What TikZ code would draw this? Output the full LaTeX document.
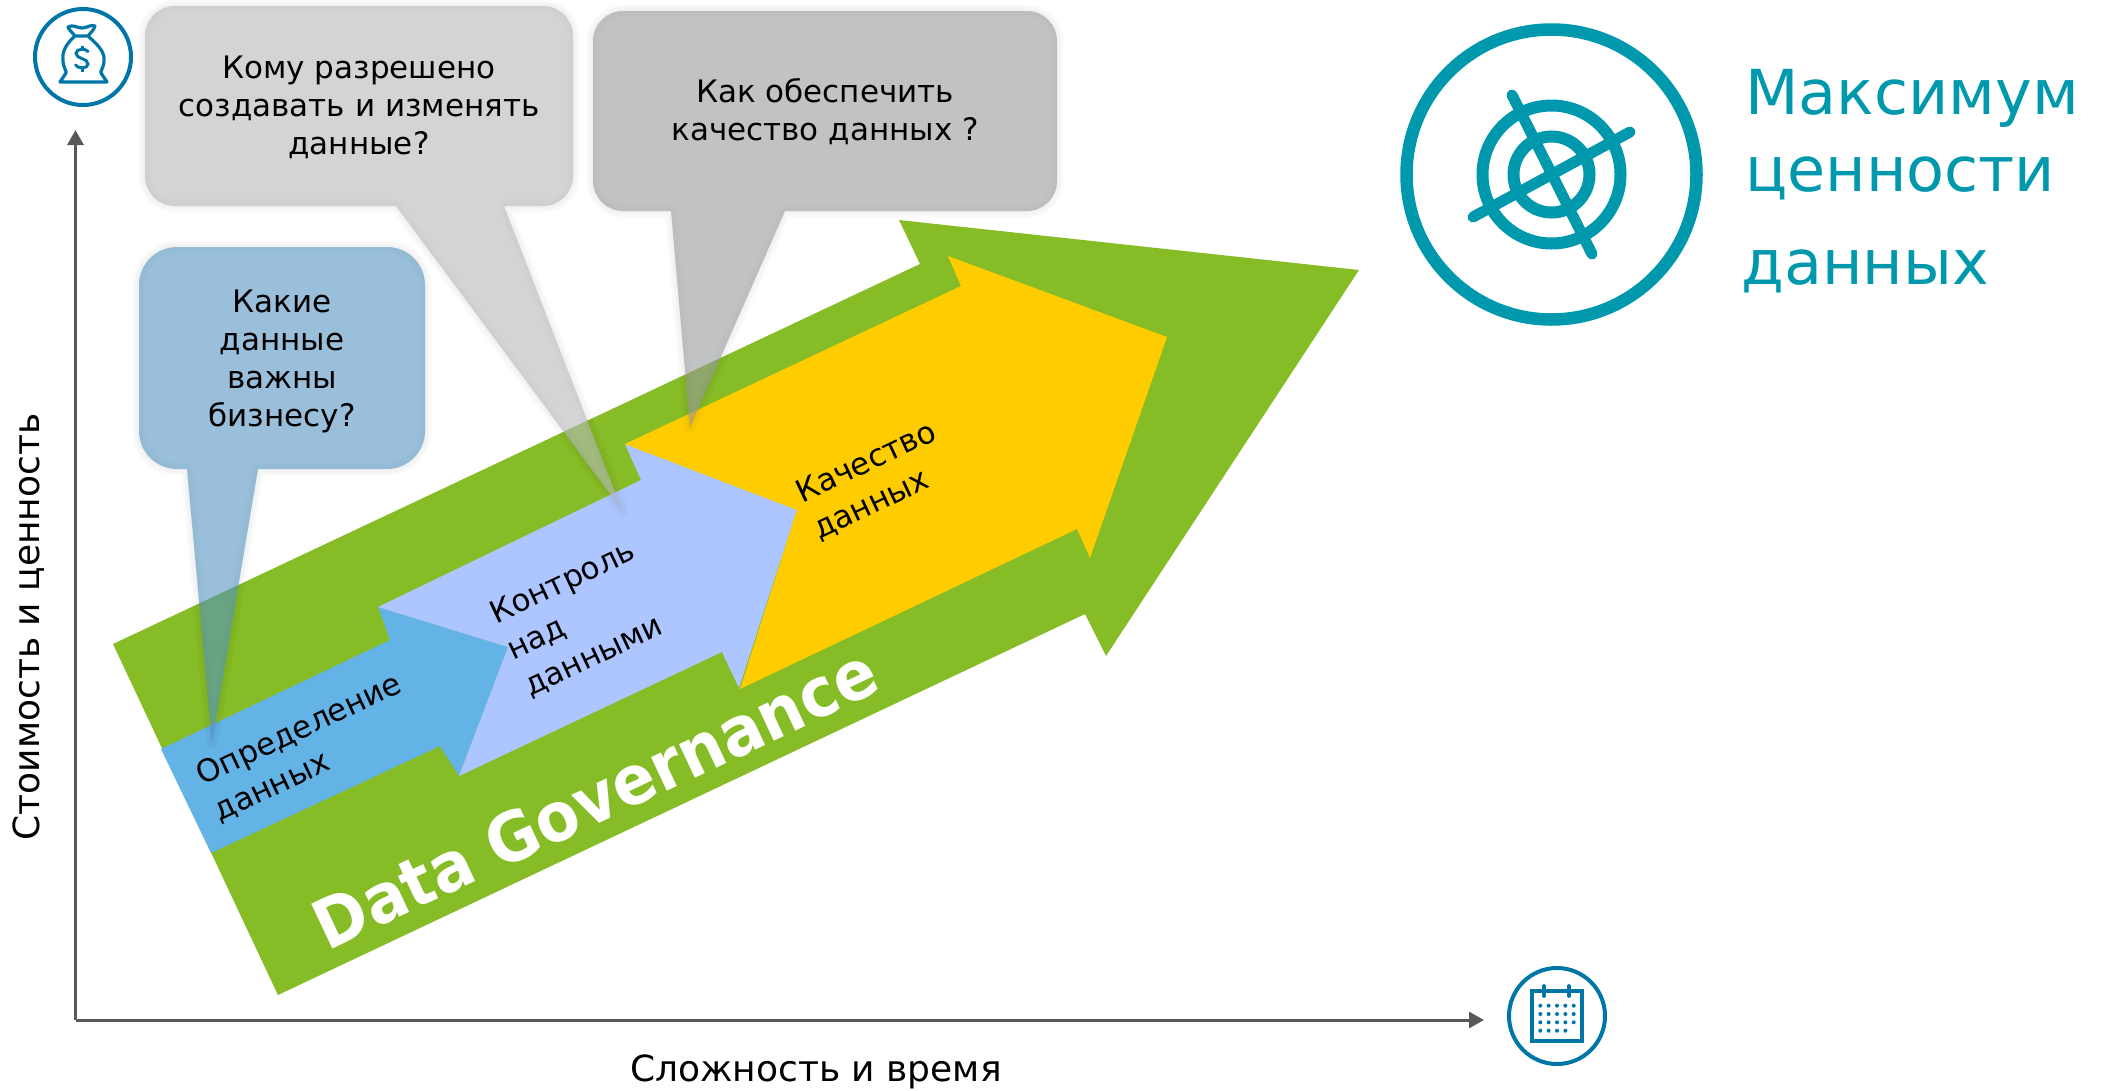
\documentclass[tikz,border=0pt]{standalone}
\usepackage{fontspec}
\setmainfont{DejaVu Sans}
\usetikzlibrary{arrows.meta}
\definecolor{govgreen}{HTML}{86BC25}
\definecolor{defblue}{HTML}{63B3E6}
\definecolor{ctlblue}{HTML}{ADC6FF}
\definecolor{qualyel}{HTML}{FFCC00}
\definecolor{axisgr}{HTML}{58595B}
\definecolor{iconblue}{HTML}{0076A8}
\definecolor{teal}{HTML}{0098AD}
\definecolor{bubblue}{HTML}{5594C2}
\definecolor{bubgrayA}{HTML}{B6B8BB}
\definecolor{bubgrayB}{HTML}{98999C}
\tikzset{
  axisline/.style={draw=axisgr,line width=3pt,-{Triangle[length=15pt,width=16pt]}},
  axislabel/.style={font=\fontsize{36}{40}\selectfont,text=black,inner sep=0pt},
  bubtext/.style={font=\fontsize{31}{38}\selectfont,text=black,align=center,inner sep=0pt},
  steptext/.style={font=\fontsize{31}{40}\selectfont,text=black,align=left,rotate=25.2,inner sep=0pt},
  bigtext/.style={font=\fontsize{62}{80}\selectfont,text=teal,anchor=base west,inner sep=0pt},
  ringicon/.style={circle,draw=iconblue,line width=4pt,minimum size=96pt,inner sep=0pt},
  tealline/.style={draw=teal,line width=11pt,line cap=round},
  glow/.style={draw=black,opacity=0.018,line join=round},
}
% left, top, right, bottom, radius, tail left, tail right, tip x, tip y
\newcommand{\bubblepath}[9]{%
  ({#1+#5},#2) -- ({#3-#5},#2)
  .. controls ({#3-0.45*#5},#2) and (#3,{#2+0.45*#5}) .. (#3,{#2+#5})
  -- (#3,{#4-#5})
  .. controls (#3,{#4-0.45*#5}) and ({#3-0.45*#5},#4) .. ({#3-#5},#4)
  -- (#7,#4) -- (#8,#9) -- (#6,#4) -- ({#1+#5},#4)
  .. controls ({#1+0.45*#5},#4) and (#1,{#4-0.45*#5}) .. (#1,{#4-#5})
  -- (#1,{#2+#5})
  .. controls (#1,{#2+0.45*#5}) and ({#1+0.45*#5},#2) .. ({#1+#5},#2) -- cycle}
\newcommand{\bubble}[2]{%
  \path[glow,line width=13pt] #2;
  \path[glow,line width=8pt] #2;
  \path[glow,line width=3pt] #2;
  \fill[#1,opacity=0.6] #2;
}
\begin{document}
\begin{tikzpicture}[x=1pt,y=-1pt]
\path[use as bounding box] (0,0) rectangle (2105,1090);

% axes
\coordinate (origin) at (75.5,1020);
\coordinate (ytip) at (75.5,130);
\coordinate (xtip) at (1484,1020);
\draw[axisline] (origin) -- (ytip);
\draw[axisline] (origin) -- (xtip);
\node[axislabel,rotate=90] (ylabel) at (29,627) {Стоимость и ценность};
\node[axislabel,anchor=base] (xlabel) at (816,1081) {Сложность и время};

% arrows
\fill[govgreen] (113,644) -- (920,264) -- (899,220) -- (1359,270) -- (1106,656) -- (1085,614) -- (278,995) -- cycle;
\fill[defblue] (161,749) -- (390,640) -- (378,607) -- (508,647) -- (459,776) -- (440,746) -- (211,853) -- cycle;
\fill[ctlblue] (378,607) -- (641,480) -- (625,444) -- (797,510) -- (739,688) -- (722,652) -- (459,776) -- (508,647) -- cycle;
\fill[qualyel] (625,444) -- (961,286) -- (948,256) -- (1167,337) -- (1090,558) -- (1077,529) -- (740,689) -- (797,510) -- cycle;

\node[font=\bfseries\fontsize{68}{70}\selectfont,text=white,rotate=25.2,inner sep=0pt] (gov) at (595,798) {\scalebox{0.93}[1]{Data Governance}};
\node[steptext] (def) at (308,748) {Определение\\данных};
\node[steptext] (ctl) at (580,619) {Контроль\\над\\данными};
\node[steptext] (qual) at (875,481) {Качество\\данных};

% bubbles
\bubble{bubblue}{\bubblepath{139}{247}{425}{469}{38}{187}{258}{212}{743}}
\bubble{bubgrayA}{\bubblepath{145}{6}{573}{206}{30}{396}{504}{622}{510}}
\bubble{bubgrayB}{\bubblepath{593}{11}{1057}{211}{30}{671}{785}{690}{427}}

\node[bubtext] (qa) at (359,107) {Кому разрешено\\создавать и изменять\\данные?};
\node[bubtext] (qb) at (825,112) {Как обеспечить\\качество данных ?};
\node[bubtext] (qc) at (282,361) {Какие\\данные\\важны\\бизнесу?};

% money icon
\node[ringicon] (money) at (83,57) {};
\draw[iconblue,line width=3.2pt,line join=round,line cap=round]
  (75,36) .. controls (72,32) and (69,30) .. (68,27) .. controls (73,24) and (77,28) .. (82,28) .. controls (87,28) and (91,24) .. (95,26) .. controls (94,30) and (91,32) .. (88,36) -- cycle;
\draw[iconblue,line width=3.2pt,line join=round,line cap=round]
  (74,37) .. controls (66,44) and (62,52) .. (63,60) .. controls (63,68) and (67,71) .. (66,73) -- (60,82) -- (107,82) -- (101,73) .. controls (100,71) and (104,68) .. (104,60) .. controls (105,52) and (97,44) .. (89,37);
\draw[iconblue,line width=3pt,line cap=round]
  (88,51.5) .. controls (86,48.5) and (76,48) .. (76,53.5) .. controls (76,59) and (88,58) .. (88,64) .. controls (88,69) and (78,69) .. (75.5,65);
\draw[iconblue,line width=3pt] (82,46) -- (82,49) (82,68) -- (82,72);

% calendar icon
\node[ringicon] (cal) at (1557,1016) {};
\draw[iconblue,line width=3.4pt] (1532,991) rectangle (1582,1041);
\draw[iconblue,line width=3.8pt,line cap=round] (1544,986) -- (1544,996) (1569,986) -- (1569,996);
\foreach \yy/\cc in {1005.7/5,1014/5,1022.3/5,1030.7/4}{
  \foreach \ii in {1,...,\cc}{
    \fill[iconblue] ({1540.3+(\ii-1)*8.35},\yy) circle (2pt);
  }
}

% target icon
\node[circle,draw=teal,line width=12.5pt,minimum size=290pt,inner sep=0pt] (target) at (1551.5,174.5) {};
\node[circle,draw=teal,line width=12pt,minimum size=138pt,inner sep=0pt] (ringA) at (1551.5,174.5) {};
\node[circle,draw=teal,line width=12pt,minimum size=76pt,inner sep=0pt] (ringB) at (1551.5,174.5) {};
\draw[tealline] (1512,95) -- (1592,254);
\draw[tealline] (1473,217) -- (1630,132);

\node[bigtext] (mA) at (1745,114) {Максимум};
\node[bigtext] (mB) at (1745,191) {ценности};
\node[bigtext] (mC) at (1741,284) {данных};
\end{tikzpicture}
\end{document}
